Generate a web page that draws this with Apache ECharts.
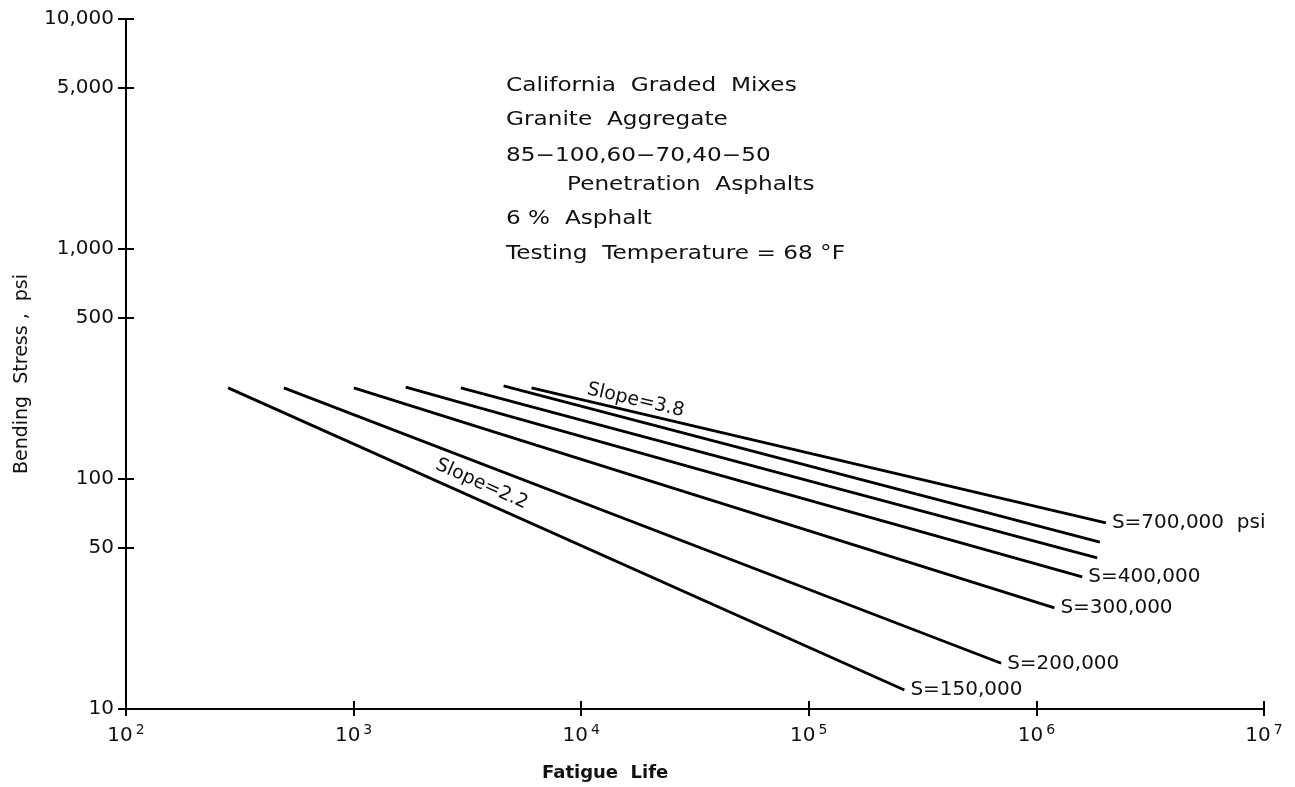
<!DOCTYPE html>
<html>
<head>
<meta charset="utf-8">
<script src="https://cdn.jsdelivr.net/npm/echarts@6/dist/echarts.min.js"></script>
<style>
  html, body { margin: 0; background: #fff; }
  #chart { width: 1295px; height: 787px; }
</style>
</head>
<body>
<div id="chart"></div>
<script>
// fatigue lines, straight on log-log paper: start and end points
const curveNames = ['S=150,000', 'S=200,000', 'S=300,000', 'S=400,000', 'S=500,000', 'S=600,000', 'S=700,000 psi']
const lifeStart = [281, 494, 1002, 1694, 2958, 4560, 6050]
const stressStart = [249, 249, 249, 251, 249, 254, 249]
const lifeEnd = [263000, 700000, 1200000, 1590000, 1850000, 1900000, 2020000]
const stressEnd = [12.1, 15.8, 27.5, 37.5, 45.4, 53.2, 64.4]
const endLabels = ['S=150,000', 'S=200,000', 'S=300,000', 'S=400,000', '', '', 'S=700,000  psi']

const stressTicks = [10, 50, 100, 500, 1000, 5000, 10000]
const lifeTicks = [100, 1000, 10000, 100000, 1000000, 10000000]

const notes = [
  'California  Graded  Mixes',
  'Granite  Aggregate',
  '85\u2212100,60\u221270,40\u221250',
  'Penetration  Asphalts',
  '6 %  Asphalt',
  'Testing  Temperature = 68 \u00b0F',
]
const noteX = [506, 506, 506, 567, 506, 506]
const noteY = [86, 120, 156, 185, 219, 254]

const font = 'DejaVu Sans'
const txt = { color: '#111', fontFamily: font }

const chart = echarts.init(document.getElementById('chart'))

const series = curveNames.map((name, i) => ({
  name,
  type: 'line',
  symbol: 'none',
  silent: true,
  lineStyle: { color: '#000', width: 2.8 },
  data: [[lifeStart[i], stressStart[i]], [lifeEnd[i], stressEnd[i]]],
  endLabel: {
    show: endLabels[i] !== '',
    formatter: () => endLabels[i],
    distance: 6,
    fontSize: 20,
    ...txt,
  },
}))

// slope notes ride on the outer lines
const slopeMark = (coord, text, rot) => ({
  symbol: 'circle',
  symbolSize: 1,
  silent: true,
  itemStyle: { color: 'rgba(0,0,0,0)' },
  label: { show: true, position: 'inside', fontSize: 19, ...txt },
  data: [{ coord, label: { formatter: text, rotate: rot } }],
})
series[0].markPoint = slopeMark([3656, 95], 'Slope=2.2', -24)
series[6].markPoint = slopeMark([17340, 220], 'Slope=3.8', -13)

const baseX = {
  type: 'log', logBase: 10, min: 100, max: 10000000, gridIndex: 0,
  splitLine: { show: false },
}
const baseY = {
  type: 'log', logBase: 10, min: 10, max: 10000, gridIndex: 0,
  splitLine: { show: false },
}

chart.setOption({
  backgroundColor: '#fff',
  animation: false,
  grid: { left: 126, right: 31, top: 19, bottom: 78 },
  xAxis: [
    {
      ...baseX,
      axisLine: { lineStyle: { color: '#000', width: 2 } },
      axisTick: { customValues: lifeTicks, length: 7, lineStyle: { color: '#000', width: 2 } },
      axisLabel: {
        customValues: lifeTicks,
        margin: 14,
        formatter: v => '{b|10}{s|' + Math.round(Math.log10(v)) + '}',
        rich: {
          b: { fontSize: 20, ...txt },
          s: { fontSize: 14, verticalAlign: 'top', padding: [0, 0, 12, 3], ...txt },
        },
      },
    },
    {
      ...baseX,
      position: 'bottom',
      axisLine: { show: false },
      axisTick: { customValues: lifeTicks, inside: true, length: 8, lineStyle: { color: '#000', width: 2 } },
      axisLabel: { show: false },
    },
  ],
  yAxis: [
    {
      ...baseY,
      axisLine: { lineStyle: { color: '#000', width: 2 } },
      axisTick: { customValues: stressTicks, length: 8, lineStyle: { color: '#000', width: 2 } },
      axisLabel: {
        customValues: stressTicks,
        margin: 12,
        fontSize: 20,
        ...txt,
        formatter: v => Math.round(v).toLocaleString('en-US'),
      },
      name: 'Bending  Stress ,  psi',
      nameLocation: 'middle',
      nameGap: 94,
      nameTextStyle: { fontSize: 19, ...txt, padding: [0, 20, 0, 0] },
    },
    {
      ...baseY,
      position: 'left',
      axisLine: { show: false },
      axisTick: { customValues: stressTicks, inside: true, length: 8, lineStyle: { color: '#000', width: 2 } },
      axisLabel: { show: false },
    },
  ],
  graphic: [
    {
      type: 'text', x: 542, y: 773,
      style: { text: 'Fatigue  Life', fontSize: 18, fontWeight: 'bold', fill: '#111', fontFamily: font, verticalAlign: 'middle' },
    },
    ...notes.map((t, i) => ({
      type: 'text', x: noteX[i], y: noteY[i], scaleX: 1.22,
      style: { text: t, fontSize: 19, fill: '#111', fontFamily: font, verticalAlign: 'middle' },
    })),
  ],
  series,
})
</script>
</body>
</html>
